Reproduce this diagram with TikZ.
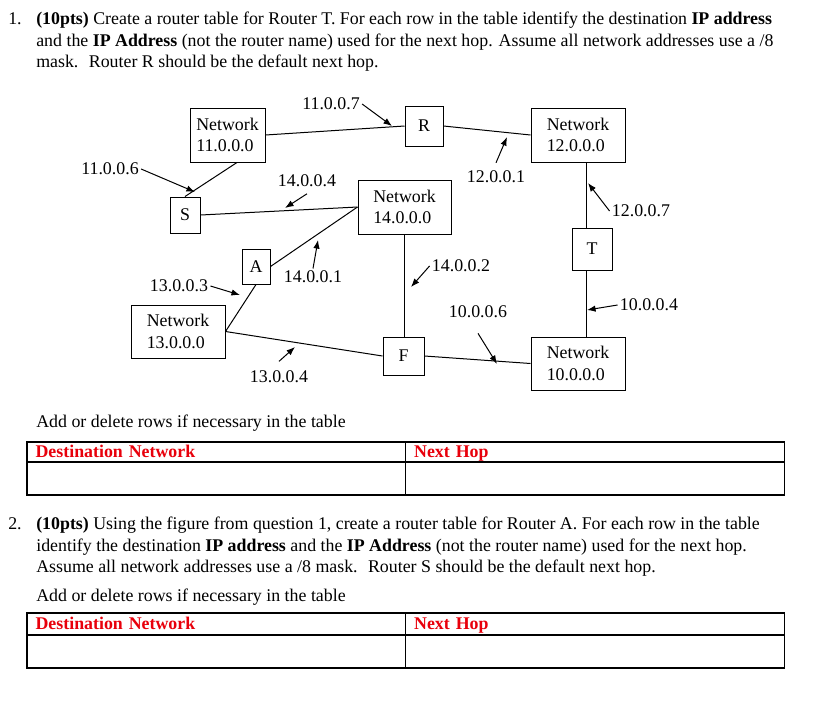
\documentclass[tikz,border=0pt]{standalone}
\usepackage{fontspec}
\setmainfont{Liberation Serif}
\usetikzlibrary{arrows.meta,positioning,calc}
\definecolor{headred}{HTML}{E8000B}
\newcommand{\qfont}{\fontsize{12.5}{15}\selectfont}
\tikzset{
  netbox/.style={draw,line width=.7pt,align=left,minimum width=65.8pt,minimum height=37.8pt,inner sep=2pt,font=\qfont},
  routerbox/.style={draw,line width=.7pt,inner sep=0pt,font=\qfont},
  addr/.style={inner sep=1.5pt,font=\qfont},
  link/.style={line width=.7pt},
  pointer/.style={-{Latex[length=6pt,width=4.5pt]},line width=.7pt},
  para/.style={anchor=base west,inner sep=0pt,font=\qfont},
  headcell/.style={draw,line width=.9pt,outer sep=0pt,text=headred,font=\qfont\bfseries,align=left,text width=253pt,text height=9.5pt,text depth=1.5pt,inner xsep=6pt,inner ysep=1pt},
  bodycell/.style={draw,line width=.9pt,outer sep=0pt,inner sep=0pt,minimum width=265pt,minimum height=23.1pt},
}

\begin{document}
\begin{tikzpicture}[x=.7pt,y=-.7pt]
  \useasboundingbox (0,0) rectangle (817,727);

  % question 1
  \node[para] (q1) at (8,24) {1.};
  \node[para] (q1a) at (36,24) {\textbf{(10pts)} Create a router table for Router T. For each row in the table identify the destination \textbf{IP address}};
  \node[para] (q1b) at (36,46) {and the \textbf{IP Address} (not the router name) used for the next hop. Assume all network addresses use a /8};
  \node[para] (q1c) at (36,67) {mask.~ Router R should be the default next hop.};

  % networks and routers
  \node[netbox,minimum width=52.5pt] (n11) at (227.5,135) {Network\\11.0.0.0};
  \node[routerbox,minimum width=26.6pt,minimum height=28pt] (r) at (424,126) {R};
  \node[netbox] (n12) at (578,135) {Network\\12.0.0.0};
  \node[routerbox,minimum width=21pt,minimum height=25.2pt] (s) at (185,215) {S};
  \node[netbox,minimum width=65.1pt] (n14) at (404.5,207) {Network\\14.0.0.0};
  \node[routerbox,minimum width=28pt,minimum height=29.4pt] (t) at (592,249) {T};
  \node[routerbox,minimum width=19.6pt,minimum height=24.5pt] (a) at (256,266.5) {A};
  \node[netbox,minimum height=37.1pt] (n13) at (178,331.5) {Network\\13.0.0.0};
  \node[routerbox,minimum width=28.7pt,minimum height=26.6pt] (f) at (403.5,356) {F};
  \node[netbox,minimum height=37.1pt] (n10) at (578,363.5) {Network\\10.0.0.0};

  \coordinate (tline) at (586,0);
  \draw[link] (n11.east)--(r.west);\draw[link] (r.east)--(n12.west);
  \draw[link] (n11.-71)--(s.north);
  \draw[link] (s.east)--(n14.west);\draw[link] (a.east)--(n14.west);
  \draw[link] (a.south)--(n13.east);\draw[link] (n13.east)--(f.west);
  \draw[link] (n14.south)--(n14.south |- f.north);
  \draw[link] (f.east)--(n10.west);
  \draw[link] (tline |- n12.south)--(tline |- t.north);
  \draw[link] (tline |- t.south)--(tline |- n10.north);

  % interface addresses
  \node[addr] (l11x7) at (331,104) {11.0.0.7};
  \node[addr] (l12x1) at (496,177) {12.0.0.1};
  \node[addr] (l12x7) at (641,211) {12.0.0.7};
  \node[addr] (l11x6) at (110,169) {11.0.0.6};
  \node[addr] (l14x4) at (307,181) {14.0.0.4};
  \node[addr] (l14x1) at (313,277) {14.0.0.1};
  \node[addr] (l13x3) at (179,286) {13.0.0.3};
  \node[addr] (l13x4) at (279,377) {13.0.0.4};
  \node[addr] (l14x2) at (461,266) {14.0.0.2};
  \node[addr] (l10x6) at (478,312) {10.0.0.6};
  \node[addr] (l10x4) at (649,305) {10.0.0.4};

  \coordinate (p11x7) at (392,126);
  \coordinate (p12x1) at (507,137);
  \coordinate (p12x7) at (588,183);
  \coordinate (p11x6) at (195,192);
  \coordinate (p14x4) at (285,208);
  \coordinate (p14x1) at (318,240);
  \coordinate (p13x3) at (240,295);
  \coordinate (p13x4) at (295,347);
  \coordinate (p14x2) at (411,287);
  \coordinate (p10x6) at (497,364);
  \coordinate (p10x4) at (587,310);

  \draw[pointer] (l11x7.east)--(p11x7);
  \draw[pointer] ([yshift=4pt]l12x1.north)--(p12x1);
  \draw[pointer] (l12x7.west)--(p12x7);
  \draw[pointer] (l11x6.east)--(p11x6);
  \draw[pointer] ([yshift=-3pt]l14x4.south)--(p14x4);
  \draw[pointer] (l14x1.north)--(p14x1);
  \draw[pointer] (l13x3.east)--(p13x3);
  \draw[pointer] ([yshift=5pt]l13x4.north)--(p13x4);
  \draw[pointer] (l14x2.west)--(p14x2);
  \draw[pointer] ([yshift=-9pt]l10x6.south)--(p10x6);
  \draw[pointer] (l10x4.west)--(p10x4);

  % table 1
  \node[para] (add1) at (36,427) {Add or delete rows if necessary in the table};
  \node[headcell,minimum height=14pt,anchor=north west] (h1a) at (27,442) {Destination Network};
  \node[headcell,minimum height=14pt,right=0pt of h1a] (h1b) {Next Hop};
  \node[bodycell,below=0pt of h1a] (b1a) {};
  \node[bodycell,below=0pt of h1b] (b1b) {};

  % question 2
  \node[para] (q2) at (8,529) {2.};
  \node[para] (q2a) at (36,529) {\textbf{(10pts)} Using the figure from question 1, create a router table for Router A. For each row in the table};
  \node[para] (q2b) at (36,551) {identify the destination \textbf{IP address} and the \textbf{IP Address} (not the router name) used for the next hop.};
  \node[para] (q2c) at (36,572) {Assume all network addresses use a /8 mask.~ Router S should be the default next hop.};

  % table 2
  \node[para] (add2) at (36,601) {Add or delete rows if necessary in the table};
  \node[headcell,minimum height=15.4pt,anchor=north west] (h2a) at (27,613) {Destination Network};
  \node[headcell,minimum height=15.4pt,right=0pt of h2a] (h2b) {Next Hop};
  \node[bodycell,below=0pt of h2a] (b2a) {};
  \node[bodycell,below=0pt of h2b] (b2b) {};
\end{tikzpicture}
\end{document}
